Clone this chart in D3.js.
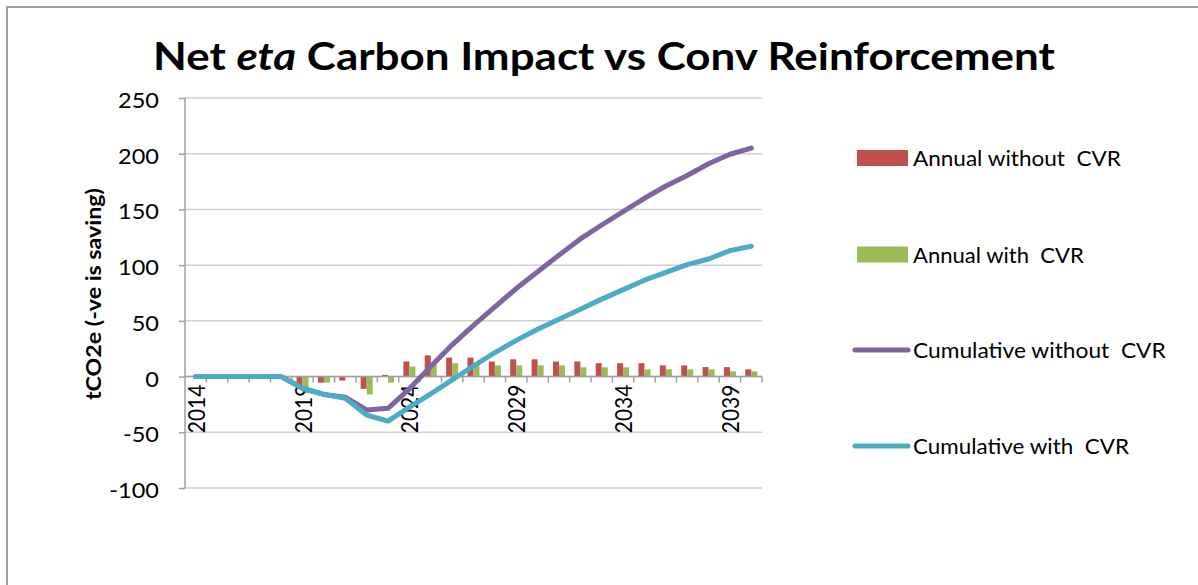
<!DOCTYPE html>
<html>
<head>
<meta charset="utf-8">
<script src="https://cdn.jsdelivr.net/npm/d3@7"></script>
<style>
    body { margin: 0; background: #fff; }
    svg text { font-family: Lato, "Liberation Sans", sans-serif; fill: #000; }
</style>
</head>
<body>
<div id="chart"></div>
<script>
// years on the category axis
const years = d3.range(2014, 2041).map(String);
const yearLabels = ["2014", "2019", "2024", "2029", "2034", "2039"];
const yTicks = [-100, -50, 0, 50, 100, 150, 200, 250];

// series (tCO2e)
const annualWithout = [0, 0, 0, 0, 0, -7.5, -5.4, -3.6, -11, 1.5, 13.5, 19, 17, 17, 13.5, 15.5, 15.5, 13.5, 13.5, 12, 12, 12, 10, 10, 8.5, 8.5, 6.5];
const annualWith = [0, 0, 0, 0, 0, -15, -5.4, 0, -16, -5.4, 9, 12, 12, 12, 10, 10, 10, 10, 8.3, 8.3, 8.3, 6.5, 6.5, 6.5, 6.5, 4.7, 4.7];
const cumWithout = [0, 0, 0, 0, 0, -10.5, -16, -18.5, -30, -28.5, -11, 9, 28.5, 46, 62.5, 79, 94, 109, 123.5, 136, 148, 160, 171, 180.5, 191, 199.5, 205];
const cumWith = [0, 0, 0, 0, 0, -10.5, -16, -19.5, -34.5, -40, -27.5, -15.5, -3, 9.5, 21.5, 32.5, 42.5, 51.5, 60.5, 69.5, 78, 86.5, 93.5, 100.5, 105.5, 113, 117];

const seriesNames = ["Annual without  CVR", "Annual with  CVR", "Cumulative without  CVR", "Cumulative with  CVR"];
const colors = ["#C0504D", "#9BBB59", "#8064A2", "#4BACC6"];

var w = 1198, h = 585;
var stretch = 1.12; // text in the picture is a bit wider than tall

var svg = d3.select("#chart").append("svg")
    .attr("width", w)
    .attr("height", h);

// outer chart border (right and bottom edges fall off the picture)
svg.append("rect")
    .attr("x", 7).attr("y", 7)
    .attr("width", w + 20).attr("height", h + 20)
    .style("fill", "none")
    .style("stroke", "#a0a0a0")
    .style("stroke-width", 2);

// stretch a text horizontally so it spans the given width from x0
function fitWidth(sel, x0, y0, width) {
    var bw = sel.node().getComputedTextLength();
    sel.attr("x", 0).attr("y", 0)
        .attr("transform", "translate(" + x0 + "," + y0 + ") scale(" + (width / bw) + ",1)");
}

var x = d3.scaleBand().domain(years).range([185, 762]).padding(0);
var y = d3.scaleLinear().domain([-100, 250]).range([488, 98]);
var sub = d3.scaleBand().domain([0, 1]).range([0, x.bandwidth()]).paddingInner(0).paddingOuter(0.78);

// gridlines
svg.append("g").selectAll("line")
    .data(yTicks)
    .enter().append("line")
    .attr("x1", 185).attr("x2", 762)
    .attr("y1", d => y(d)).attr("y2", d => y(d))
    .style("stroke", "#d0d0d0")
    .style("stroke-width", 1.5);

// y axis
var yAxis = svg.append("g")
    .attr("transform", "translate(185,0)")
    .call(d3.axisLeft(y).tickValues(yTicks).tickSize(6).tickFormat(""));
yAxis.selectAll("path, line").style("stroke", "#a0a0a0").style("stroke-width", 1.5);
yAxis.select(".domain").attr("d", "M0," + y(-100) + "V" + y(250));

svg.append("g").selectAll("text")
    .data(yTicks)
    .enter().append("text")
    .attr("text-anchor", "end")
    .style("font-size", "21px")
    .attr("transform", d => "translate(159," + (y(d) + 10) + ") scale(" + stretch + ",1)")
    .text(d => d);

// bars
var bars = svg.append("g");
[annualWithout, annualWith].forEach(function (vals, k) {
    bars.selectAll("rect.s" + k)
        .data(vals)
        .enter().append("rect")
        .attr("class", "s" + k)
        .attr("x", (d, i) => x(years[i]) + sub(k))
        .attr("width", sub.bandwidth())
        .attr("y", d => y(Math.max(0, d)))
        .attr("height", d => Math.abs(y(d) - y(0)))
        .style("fill", colors[k]);
});

// x axis at zero with ticks between categories
var xAxis = svg.append("g").attr("transform", "translate(0," + y(0) + ")");
xAxis.append("line")
    .attr("x1", 185).attr("x2", 762)
    .style("stroke", "#a0a0a0").style("stroke-width", 1.5);
xAxis.selectAll("line.tick")
    .data(years)
    .enter().append("line")
    .attr("class", "tick")
    .attr("x1", d => x(d) + x.bandwidth()).attr("x2", d => x(d) + x.bandwidth())
    .attr("y1", 0).attr("y2", 6)
    .style("stroke", "#a0a0a0").style("stroke-width", 1.5);

svg.append("g").selectAll("text")
    .data(yearLabels)
    .enter().append("text")
    .attr("text-anchor", "end")
    .style("font-size", "21px")
    .attr("transform", d => "translate(" + (x(d) + x.bandwidth() / 2 + 9) + "," + (y(0) + 8) + ") scale(" + stretch + ",1) rotate(-90)")
    .text(d => d);

// cumulative lines
var line = d3.line()
    .x((d, i) => x(years[i]) + x.bandwidth() / 2)
    .y(d => y(d));

[cumWithout, cumWith].forEach(function (vals, k) {
    svg.append("path")
        .datum(vals)
        .attr("d", line)
        .style("fill", "none")
        .style("stroke", colors[k + 2])
        .style("stroke-width", 5)
        .style("stroke-linejoin", "round")
        .style("stroke-linecap", "round");
});

// title
var title = svg.append("text")
    .style("font-size", "39px")
    .style("font-weight", "bold");
title.append("tspan").text("Net ");
title.append("tspan").style("font-style", "italic").text("eta");
title.append("tspan").text(" Carbon Impact vs Conv Reinforcement");
fitWidth(title, 153, 70, 902);

// y axis title
var yTitle = svg.append("text")
    .style("font-size", "20px")
    .style("font-weight", "bold")
    .text("tCO2e (-ve is saving)");
var ytl = yTitle.node().getComputedTextLength();
yTitle.attr("transform", "translate(101,400) rotate(-90) scale(" + (212 / ytl) + ",1)");

// legend
var legendY = [158, 254.5, 350, 446];
var legendW = [208, 171, 253, 216];
var legend = svg.append("g");
seriesNames.forEach(function (name, i) {
    if (i < 2) {
        legend.append("rect")
            .attr("x", 857).attr("y", legendY[i] - 8)
            .attr("width", 51).attr("height", 16)
            .style("fill", colors[i]);
    } else {
        legend.append("line")
            .attr("x1", 855).attr("x2", 908)
            .attr("y1", legendY[i]).attr("y2", legendY[i])
            .style("stroke", colors[i])
            .style("stroke-width", 5)
            .style("stroke-linecap", "round");
    }
    var t = legend.append("text")
        .style("font-size", "21px")
        .style("white-space", "pre")
        .text(name);
    fitWidth(t, 913, legendY[i] + 8, legendW[i]);
});
</script>
</body>
</html>
